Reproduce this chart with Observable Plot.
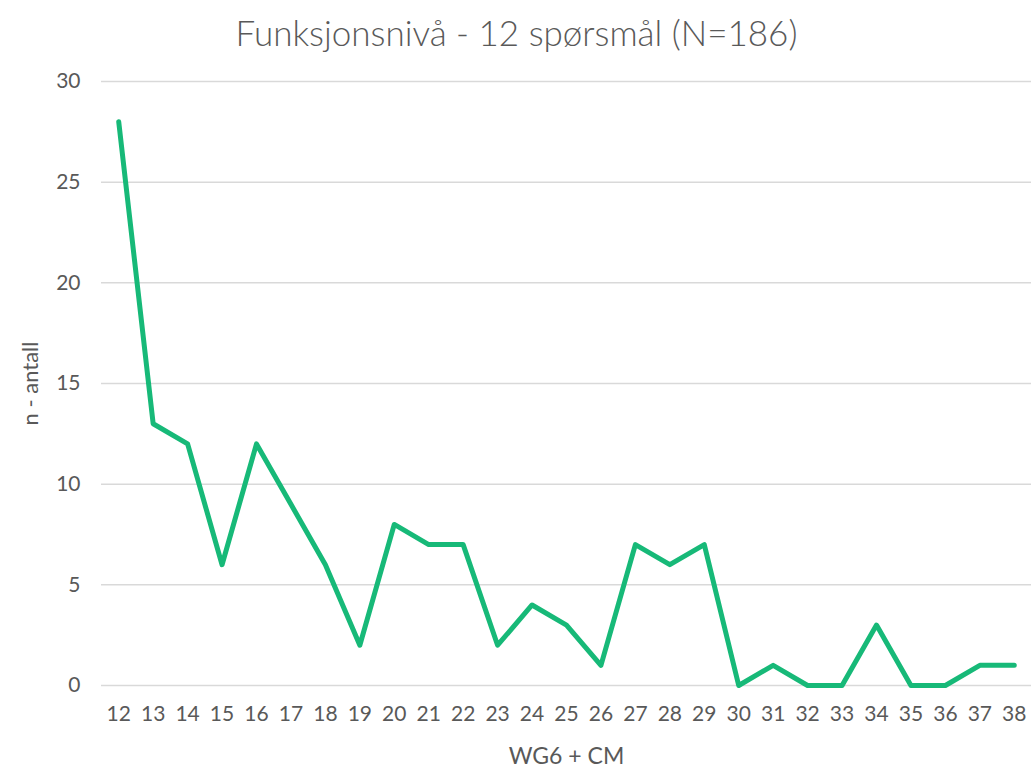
<!DOCTYPE html>
<html><head><meta charset="utf-8">
<script src="https://cdn.jsdelivr.net/npm/d3@7"></script>
<script src="https://cdn.jsdelivr.net/npm/@observablehq/plot@0.6"></script>
<style>
body{margin:0;background:#fff;font-family:Lato,"Open Sans",sans-serif;}
#title{height:60px;line-height:64px;text-align:center;font-size:35px;color:#595959;font-weight:300;}
</style></head><body>
<div id="title">Funksjonsnivå - 12 spørsmål (N=186)</div>
<div id="chart"></div>
<script>
const scores = [12,13,14,15,16,17,18,19,20,21,22,23,24,25,26,27,28,29,30,31,32,33,34,35,36,37,38];
const counts = [28,13,12,6,12,9,6,2,8,7,7,2,4,3,1,7,6,7,0,1,0,0,3,0,0,1,1];
const yTicks = [0,5,10,15,20,25,30];
const data = scores.map((s,i)=>({score:s, n:counts[i]}));
const chart = Plot.plot({
  width:1033, height:708,
  marginLeft:101, marginRight:2, marginTop:21, marginBottom:83,
  style:{fontFamily:"Lato, 'Open Sans', sans-serif", fontSize:"21px", color:"#595959", background:"#fff"},
  x:{type:"point", domain:scores, padding:0.5, round:false},
  y:{domain:[0,30]},
  marks:[
    Plot.gridY(yTicks,{stroke:"#d9d9d9", strokeOpacity:1, strokeWidth:1.5}),
    Plot.axisY(yTicks,{tickSize:0, tickPadding:21, label:null, fill:"#595959", fontSize:21}),
    Plot.axisX({tickSize:0, tickPadding:21, label:null, fill:"#595959", fontSize:21}),
    Plot.text(["n - antall"],{frameAnchor:"left", dx:-71, rotate:-90, textAnchor:"middle", fontSize:22, fill:"#595959", letterSpacing:"1px"}),
    Plot.text(["WG6 + CM"],{frameAnchor:"bottom", dy:78, fontSize:23, fill:"#595959"}),
    Plot.line(data,{x:"score", y:"n", stroke:"#17b978", strokeWidth:5, strokeLinejoin:"round", strokeLinecap:"round"})
  ]
});
document.getElementById("chart").appendChild(chart);
</script>
</body></html>
